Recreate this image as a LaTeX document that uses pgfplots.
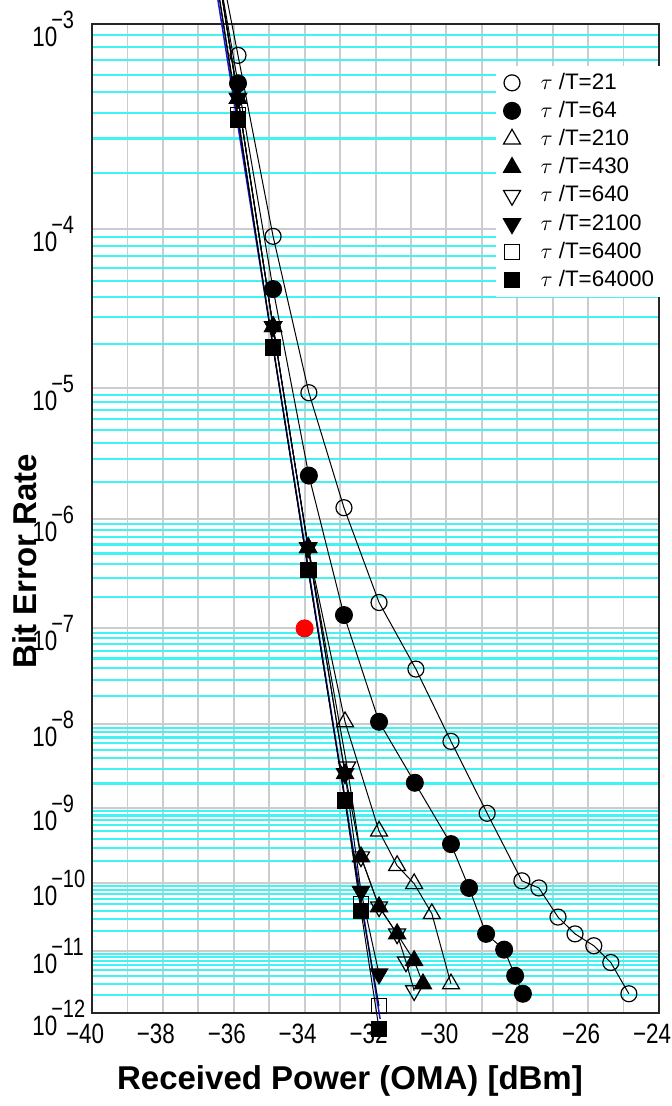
\documentclass[border=0pt]{standalone}
\usepackage{fontspec}
\setmainfont{Liberation Sans}
\newfontfamily\tickfont[FakeStretch=0.8]{Liberation Sans}
\usepackage{pgfplots}
\pgfplotsset{compat=1.18}
\definecolor{gridcyan}{HTML}{40F4F4}
\definecolor{gridgray}{HTML}{CCCCCC}
\definecolor{fitblue}{HTML}{1414D2}
% y axis: BER = 10^{-n}, plotted as n on a reversed log axis (BER paper scale)
\newcommand\ep[1]{10\kern-3pt\raisebox{9pt}{\fontsize{12.5}{12.5}\selectfont −#1}}
\pgfplotsset{
  ser/.style={black, line width=0.5pt, mark options={solid, line width=0.6pt}},
  serd/.style={black, line width=0.5pt, mark options={solid, line width=0.6pt, rotate=180}},
}
\begin{document}
\begin{tikzpicture}
\begin{axis}[
  at={(0,0)}, anchor=south west,
  width=283.5pt, height=494.5pt, scale only axis,
  xmin=-40, xmax=-24,
  ymode=log, y dir=reverse, ymin=3, ymax=12,
  xtick={-40,-38,...,-24},
  xticklabels={−40,−38,−36,−34,−32,−30,−28,−26,−24},
  minor xtick={-39,-37,...,-25},
  ytick={3,4,...,12},
  yticklabels={\ep{3},\ep{4},\ep{5},\ep{6},\ep{7},\ep{8},\ep{9},\ep{10},\ep{11},\ep{12}},
  minor ytick={3.69897,3.52288,3.39794,3.30103,3.22185,3.15490,3.09691,3.04576,
    4.69897,4.52288,4.39794,4.30103,4.22185,4.15490,4.09691,4.04576,
    5.69897,5.52288,5.39794,5.30103,5.22185,5.15490,5.09691,5.04576,
    6.69897,6.52288,6.39794,6.30103,6.22185,6.15490,6.09691,6.04576,
    7.69897,7.52288,7.39794,7.30103,7.22185,7.15490,7.09691,7.04576,
    8.69897,8.52288,8.39794,8.30103,8.22185,8.15490,8.09691,8.04576,
    9.69897,9.52288,9.39794,9.30103,9.22185,9.15490,9.09691,9.04576,
    10.69897,10.52288,10.39794,10.30103,10.22185,10.15490,10.09691,10.04576,
    11.69897,11.52288,11.39794,11.30103,11.22185,11.15490,11.09691,11.04576},
  grid=both,
  major grid style={gridgray, line width=1pt},
  minor x grid style={gridgray, line width=0.9pt},
  minor y grid style={gridcyan, line width=1.1pt},
  major tick length=0pt, minor tick length=0pt,
  axis line style={black!85, line width=1pt},
  ticklabel style={font=\tickfont\fontsize{14}{14}\selectfont},
  xticklabel style={anchor=base, yshift=-15pt, xshift=-3.5pt},
  yticklabel style={anchor=base west, inner sep=0pt, xshift=-30pt, yshift=-11.25pt},
  xlabel={Received Power (OMA) [dBm]},
  ylabel={Bit Error Rate},
  xlabel style={at={(axis description cs:0.455,0)}, anchor=base, yshift=-38pt,
    font=\bfseries\fontsize{16.5}{16.5}\selectfont},
  ylabel style={at={(axis description cs:-0.097,0.4565)}, anchor=base,
    font=\bfseries\fontsize{16.5}{16.5}\selectfont},
  clip=false,
  legend cell align=left,
  legend image code/.code={\path (0pt,0pt) (14pt,0pt);
    \draw[#1, only marks] plot coordinates {(0pt,0pt)};},
  legend style={at={(0.711,0.9576)}, anchor=north west, draw=none, fill=white,
    inner xsep=4pt, inner ysep=3.5pt, row sep=4.5pt,
    nodes={inner sep=0pt, text height=8pt, text depth=1.5pt},
    font=\fontsize{11.2}{13}\selectfont},
]
% fitted straight line (blue)
\addplot[fitblue, line width=0.75pt, forget plot] coordinates {(-36.58,2.782) (-31.87,12.1)};

\addplot[ser, mark=o, mark size=4pt] coordinates {
 (-36.9,2.42) (-35.88,3.135) (-34.89,4.04) (-33.88,5.03) (-32.89,5.91) (-31.90,6.75)
 (-30.86,7.41) (-29.87,8.20) (-28.85,9.07) (-27.87,9.97) (-27.39,10.07) (-26.85,10.49)
 (-26.37,10.74) (-25.84,10.92) (-25.36,11.18) (-24.85,11.68)};
\addlegendentry{$\tau$ /T=21}
\addplot[ser, mark=*, mark size=4.2pt] coordinates {
 (-36.9,2.44) (-35.88,3.26) (-34.89,4.35) (-33.88,5.65) (-32.89,6.87) (-31.90,7.98)
 (-30.89,8.69) (-29.87,9.47) (-29.36,10.07) (-28.88,10.74) (-28.37,10.98)
 (-28.06,11.39) (-27.84,11.68)};
\addlegendentry{$\tau$ /T=64}
\addplot[ser, mark=triangle, mark size=4.9pt] coordinates {
 (-36.9,2.41) (-35.88,3.33) (-34.89,4.585) (-33.90,6.25) (-32.86,7.98) (-31.90,9.30)
 (-31.39,9.76) (-30.91,10.01) (-30.41,10.44) (-29.87,11.52)};
\addlegendentry{$\tau$ /T=210}
\addplot[ser, mark=triangle*, mark size=4.9pt] coordinates {
 (-36.9,2.41) (-35.88,3.33) (-34.89,4.585) (-33.90,6.25) (-32.86,8.58) (-32.41,9.64)
 (-31.90,10.34) (-31.39,10.74) (-30.91,11.15) (-30.66,11.52)};
\addlegendentry{$\tau$ /T=430}
\addplot[serd, mark=triangle, mark size=4.9pt] coordinates {
 (-36.9,2.41) (-35.88,3.33) (-34.89,4.585) (-33.90,6.25) (-32.80,8.50) (-32.41,9.64)
 (-31.90,10.34) (-31.39,10.74) (-31.14,11.17) (-30.91,11.63)};
\addlegendentry{$\tau$ /T=640}
\addplot[serd, mark=triangle*, mark size=4.9pt] coordinates {
 (-36.9,2.41) (-35.88,3.33) (-34.89,4.585) (-33.90,6.25) (-32.86,8.58) (-32.41,10.12)
 (-31.90,11.36)};
\addlegendentry{$\tau$ /T=2100}
\addplot[ser, mark=square, mark size=3.8pt] coordinates {
 (-36.9,2.47) (-35.88,3.41) (-34.89,4.72) (-33.90,6.45) (-32.86,8.91) (-32.41,10.30)
 (-31.90,11.88)};
\addlegendentry{$\tau$ /T=6400}
\addplot[ser, mark=square*, mark size=3.9pt] coordinates {
 (-36.9,2.47) (-35.88,3.43) (-34.89,4.72) (-33.90,6.45) (-32.86,8.91) (-32.41,10.40)
 (-31.90,12.27)};
\addlegendentry{$\tau$ /T=64000}

% red reference point
\addplot[only marks, mark=*, mark size=4.3pt, red, forget plot] coordinates {(-34.0,7.0)};
\end{axis}
\pgfresetboundingbox
\useasboundingbox (-46pt,-46.5pt) rectangle (290pt,506.5pt);
\end{tikzpicture}
\end{document}
